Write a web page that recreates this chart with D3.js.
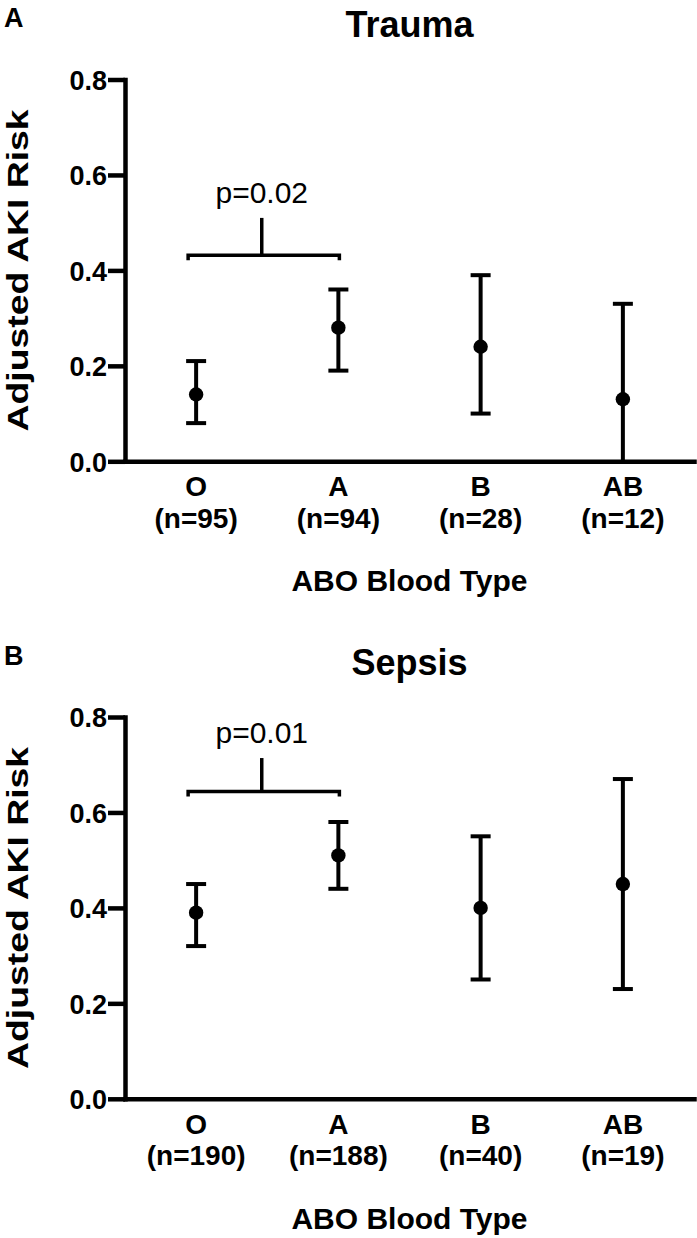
<!DOCTYPE html>
<html>
<head>
<meta charset="utf-8">
<script src="https://cdn.jsdelivr.net/npm/d3@7"></script>
<style>
  html, body { margin: 0; padding: 0; background: #fff; }
  svg { display: block; font-family: "Liberation Sans", Arial, Helvetica, sans-serif; }
</style>
</head>
<body>
<svg id="chart" width="697" height="1238"></svg>
<script>
// ---- data ----
const categories = ["O", "A", "B", "AB"];
const yTicks = [0.0, 0.2, 0.4, 0.6, 0.8];

const panelLetters = ["A", "B"];
const panelTitles = ["Trauma", "Sepsis"];

const traumaN = [95, 94, 28, 12];
const traumaMean = [0.14, 0.28, 0.24, 0.13];
const traumaLower = [0.08, 0.19, 0.10, 0.00];
const traumaUpper = [0.21, 0.36, 0.39, 0.33];

const sepsisN = [190, 188, 40, 19];
const sepsisMean = [0.39, 0.51, 0.40, 0.45];
const sepsisLower = [0.32, 0.44, 0.25, 0.23];
const sepsisUpper = [0.45, 0.58, 0.55, 0.67];

const pLabels = ["p=0.02", "p=0.01"];
const bracketLevel = [0.432, 0.644];
const bracketTop = [0.51, 0.714];
const bracketPair = ["O", "A"];

const yTitle = "Adjusted AKI Risk";
const xTitle = "ABO Blood Type";

// ---- drawing ----
const svg = d3.select("#chart");
const panelOffset = 637.5;

const x = d3.scaleBand().domain(categories).range([125, 694]).padding(0);
const xc = d => x(d) + x.bandwidth() / 2;

function drawPanel(i, nArr, mean, lower, upper) {
  const oy = i * panelOffset;
  const g = svg.append("g").attr("transform", `translate(0,${oy})`);
  const y = d3.scaleLinear().domain([0, 0.8]).range([461.3, 79.5]);

  // panel letter
  g.append("text").attr("x", 4).attr("y", 27)
    .attr("font-size", 27).attr("font-weight", "bold").text(panelLetters[i]);

  // title
  g.append("text").attr("x", 409.5).attr("y", 37)
    .attr("text-anchor", "middle").attr("font-size", 36).attr("font-weight", "bold")
    .text(panelTitles[i]);

  // y axis
  const yAxis = d3.axisLeft(y).tickValues(yTicks).tickSize(17).tickSizeOuter(0)
    .tickPadding(1).tickFormat(d3.format(".1f"));
  const ya = g.append("g").attr("transform", "translate(125,0)").call(yAxis);
  ya.select(".domain").attr("stroke", "#000").attr("stroke-width", 4.5)
    .attr("stroke-linecap", "square");
  ya.selectAll(".tick line").attr("stroke", "#000").attr("stroke-width", 4.5);
  ya.selectAll(".tick text").attr("fill", "#000").attr("font-size", 27)
    .attr("font-weight", "bold").attr("font-family", "Liberation Sans, Arial, sans-serif")
    .attr("dy", "0.36em");

  // x axis
  const xAxis = d3.axisBottom(x).tickSize(0).tickSizeOuter(0).tickPadding(0);
  const xa = g.append("g").attr("transform", "translate(0,461.3)").call(xAxis);
  xa.select(".domain").attr("stroke", "#000").attr("stroke-width", 4.5)
    .attr("stroke-linecap", "square");
  xa.selectAll(".tick text").each(function(d, k) {
    const t = d3.select(this);
    t.text(null).attr("dy", null).attr("y", 0).attr("fill", "#000")
      .attr("font-size", 28).attr("font-weight", "bold")
      .attr("font-family", "Liberation Sans, Arial, sans-serif");
    t.append("tspan").attr("x", 0).attr("y", 35).text(d);
    t.append("tspan").attr("x", 0).attr("y", 66.5).text(`(n=${nArr[categories.indexOf(d)]})`);
  });

  // axis titles
  g.append("text").attr("x", 409.5).attr("y", 461.3 + 130)
    .attr("text-anchor", "middle").attr("font-size", 30).attr("font-weight", "bold")
    .text(xTitle);
  const ymid = (y(0) + y(0.8)) / 2;
  g.append("text").attr("transform", `translate(28,${ymid}) rotate(-90)`)
    .attr("text-anchor", "middle").attr("font-size", 30).attr("font-weight", "bold")
    .attr("textLength", 322).attr("lengthAdjust", "spacingAndGlyphs")
    .text(yTitle);

  // error bars
  const rows = categories.map((c, k) => ({ c, m: mean[k], lo: lower[k], hi: upper[k] }));
  const eb = g.append("g");
  eb.selectAll("line.v").data(rows).join("line").attr("class", "v")
    .attr("x1", d => xc(d.c)).attr("x2", d => xc(d.c))
    .attr("y1", d => y(d.lo)).attr("y2", d => y(d.hi))
    .attr("stroke", "#000").attr("stroke-width", 4);
  eb.selectAll("line.cap-hi").data(rows).join("line").attr("class", "cap-hi")
    .attr("x1", d => xc(d.c) - 10).attr("x2", d => xc(d.c) + 10)
    .attr("y1", d => y(d.hi)).attr("y2", d => y(d.hi))
    .attr("stroke", "#000").attr("stroke-width", 4);
  eb.selectAll("line.cap-lo").data(rows.filter(d => d.lo > 0)).join("line").attr("class", "cap-lo")
    .attr("x1", d => xc(d.c) - 10).attr("x2", d => xc(d.c) + 10)
    .attr("y1", d => y(d.lo)).attr("y2", d => y(d.lo))
    .attr("stroke", "#000").attr("stroke-width", 4);
  eb.selectAll("circle").data(rows).join("circle")
    .attr("cx", d => xc(d.c)).attr("cy", d => y(d.m)).attr("r", 7.2).attr("fill", "#000");

  // significance bracket
  const bx1 = xc(bracketPair[0]) - 8, bx2 = xc(bracketPair[1]) + 1;
  const by = y(bracketLevel[i]);
  const bmid = (bx1 + bx2) / 2 - 2;
  g.append("path")
    .attr("d", `M${bx1},${by + 5}V${by}H${bx2}V${by + 5}`)
    .attr("fill", "none").attr("stroke", "#000").attr("stroke-width", 3.5);
  g.append("line").attr("x1", bmid).attr("x2", bmid)
    .attr("y1", by).attr("y2", y(bracketTop[i]))
    .attr("stroke", "#000").attr("stroke-width", 3.5);
  g.append("text").attr("x", bmid).attr("y", y(bracketTop[i]) - 15)
    .attr("text-anchor", "middle").attr("font-size", 30).text(pLabels[i]);
}

drawPanel(0, traumaN, traumaMean, traumaLower, traumaUpper);
drawPanel(1, sepsisN, sepsisMean, sepsisLower, sepsisUpper);
</script>
</body>
</html>
